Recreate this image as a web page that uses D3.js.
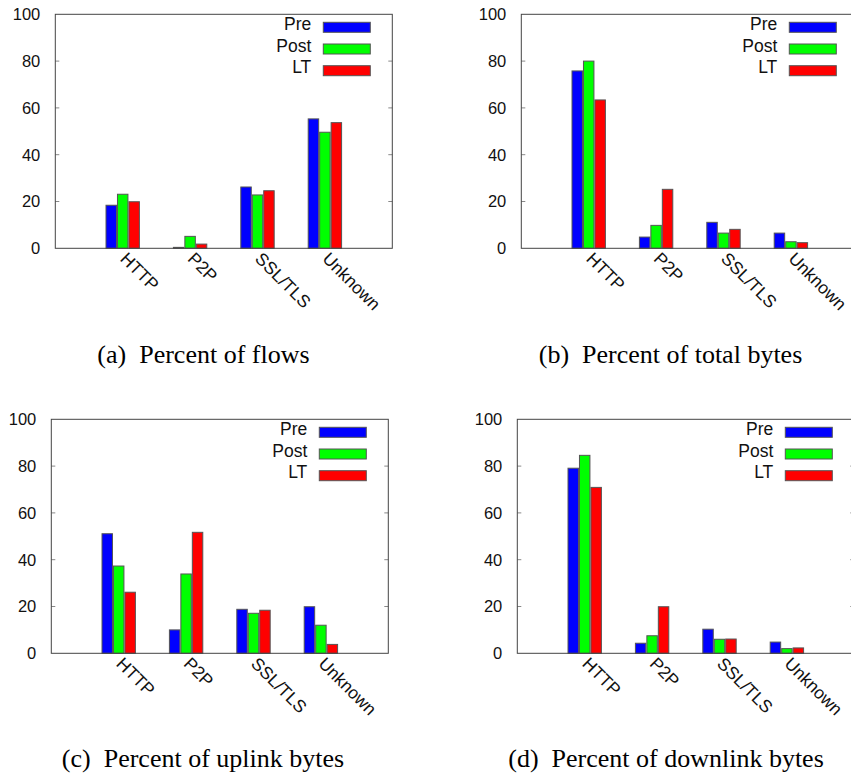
<!DOCTYPE html>
<html lang="en">

<head>
    <meta charset="UTF-8">
    <script src="https://d3js.org/d3.v7.min.js"></script>
    <title>Traffic share</title>
    <style>
        body {
            margin: 0;
            background: #fff;
        }
    </style>
</head>

<body>
    <script>
        // categories and series
        var categories = ["HTTP", "P2P", "SSL/TLS", "Unknown"];
        var seriesNames = ["Pre", "Post", "LT"];
        var seriesColors = ["#0000ff", "#00ff00", "#ff0000"];
        var yTicks = [0, 20, 40, 60, 80, 100];

        // values (percent)
        var flowsPre = [18.4, 0.4, 26.2, 55.3];
        var flowsPost = [23.1, 5.1, 22.8, 49.6];
        var flowsLT = [19.9, 1.8, 24.6, 53.7];

        var totalPre = [75.8, 4.8, 11.1, 6.5];
        var totalPost = [80.0, 9.8, 6.5, 2.8];
        var totalLT = [63.4, 25.2, 8.1, 2.4];

        var uplinkPre = [51.1, 10.0, 18.8, 19.9];
        var uplinkPost = [37.3, 33.9, 17.1, 12.0];
        var uplinkLT = [26.1, 51.7, 18.4, 3.8];

        var downlinkPre = [79.1, 4.3, 10.3, 4.8];
        var downlinkPost = [84.6, 7.5, 6.0, 2.0];
        var downlinkLT = [70.9, 19.9, 6.1, 2.3];

        var captions = ["(a)  Percent of flows", "(b)  Percent of total bytes",
            "(c)  Percent of uplink bytes", "(d)  Percent of downlink bytes"];

        // panel layout (frame box + caption position)
        var panels = [
            { series: [flowsPre, flowsPost, flowsLT], left: 55.3, top: 14.3, capX: 203.5, capY: 363 },
            { series: [totalPre, totalPost, totalLT], left: 521.3, top: 14.3, capX: 670.5, capY: 363 },
            { series: [uplinkPre, uplinkPost, uplinkLT], left: 51.3, top: 419.3, capX: 203, capY: 766.7 },
            { series: [downlinkPre, downlinkPost, downlinkLT], left: 517.3, top: 419.3, capX: 666, capY: 766.7 }
        ];
        var plotW = 337, plotH = 234;
        var sans = "Liberation Sans, Arial, sans-serif";

        var svg = d3.select("body")
            .append("svg")
            .attr("width", 851)
            .attr("height", 776);

        panels.forEach(function (p, pi) {
            var g = svg.append("g");

            var x = d3.scalePoint()
                .domain(categories)
                .range([p.left, p.left + plotW])
                .padding(1);
            var y = d3.scaleLinear()
                .domain([0, 100])
                .range([p.top + plotH, p.top]);
            var barW = x.step() * 0.17;

            // bars
            seriesNames.forEach(function (s, si) {
                g.selectAll(null)
                    .data(p.series[si])
                    .join("rect")
                    .attr("x", function (d, i) { return x(categories[i]) + (si - 1.5) * barW + 0.5; })
                    .attr("y", function (d) { return y(d); })
                    .attr("width", barW - 1)
                    .attr("height", function (d) { return y(0) - y(d); })
                    .attr("fill", seriesColors[si])
                    .attr("stroke", "#555")
                    .attr("stroke-width", 1);
            });

            // y tick labels + inward ticks on both sides
            g.selectAll(null)
                .data(yTicks)
                .join("text")
                .attr("x", p.left - 15)
                .attr("y", function (d) { return y(d); })
                .attr("dy", "0.36em")
                .attr("text-anchor", "end")
                .style("font-family", sans)
                .style("font-size", "16.5px")
                .attr("fill", "#111")
                .text(function (d) { return d; });

            g.selectAll(null)
                .data(yTicks.slice(1, -1))
                .join("path")
                .attr("d", function (d) {
                    return "M" + p.left + "," + y(d) + "h4M" + (p.left + plotW) + "," + y(d) + "h-4";
                })
                .attr("stroke", "#888")
                .attr("stroke-width", 1);

            // frame
            g.append("rect")
                .attr("x", p.left)
                .attr("y", p.top)
                .attr("width", plotW)
                .attr("height", plotH)
                .attr("fill", "none")
                .attr("stroke", "#444")
                .attr("stroke-width", 1);

            // rotated category labels
            g.selectAll(null)
                .data(categories)
                .join("text")
                .attr("transform", function (d) {
                    return "translate(" + (x(d) + 1) + "," + (y(0) + 7) + ") rotate(45)";
                })
                .attr("dy", "0.36em")
                .style("font-family", sans)
                .style("font-size", "17.5px")
                .attr("fill", "#111")
                .text(function (d) { return d; });

            // legend
            var legRight = p.left + plotW - 22;
            seriesNames.forEach(function (s, si) {
                var cy = p.top + 13 + si * 21.7;
                g.append("rect")
                    .attr("x", legRight - 47)
                    .attr("y", cy - 5)
                    .attr("width", 47)
                    .attr("height", 10)
                    .attr("fill", seriesColors[si])
                    .attr("stroke", "#555")
                    .attr("stroke-width", 1);
                g.append("text")
                    .attr("x", legRight - 59)
                    .attr("y", cy + 2.7)
                    .attr("text-anchor", "end")
                    .style("font-family", sans)
                    .style("font-size", "17.5px")
                    .attr("fill", "#111")
                    .text(s);
            });

            // caption
            svg.append("text")
                .attr("x", p.capX)
                .attr("y", p.capY)
                .attr("text-anchor", "middle")
                .style("font-family", "Liberation Serif, Times New Roman, serif")
                .style("font-size", "26px")
                .style("white-space", "pre")
                .attr("fill", "#000")
                .text(captions[pi]);
        });
    </script>
</body>

</html>
